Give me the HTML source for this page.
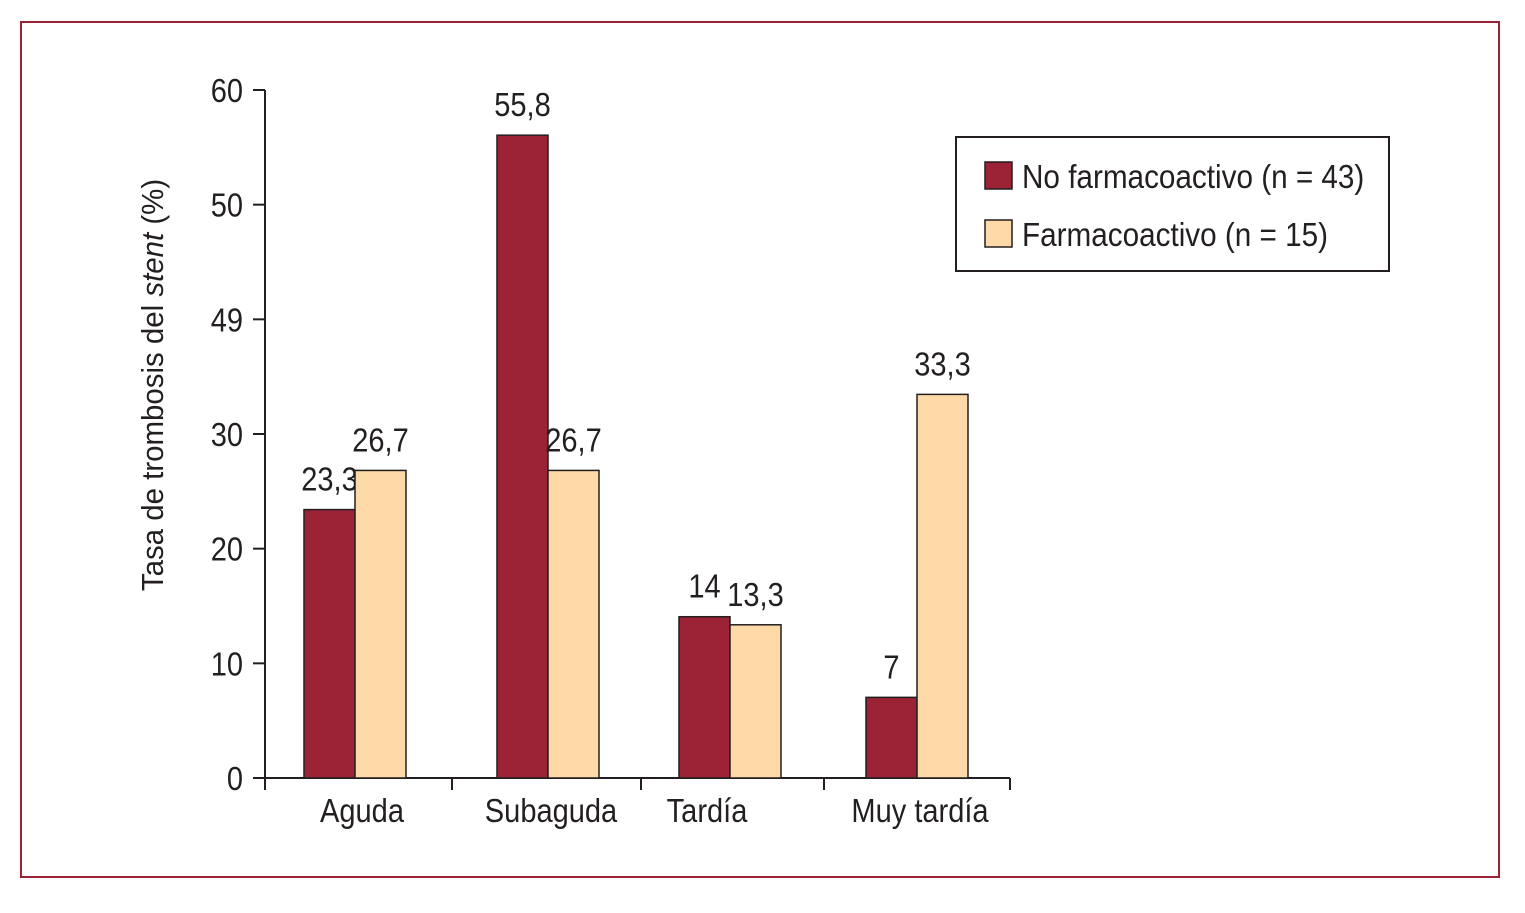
<!DOCTYPE html>
<html><head><meta charset="utf-8"><style>
html,body{margin:0;padding:0;background:#fff;}
svg text{font-family:"Liberation Sans",sans-serif;fill:#231f20;}
</style></head><body>
<svg id="chart" width="1525" height="908" xmlns="http://www.w3.org/2000/svg">
<rect x="21" y="22" width="1478" height="855" fill="none" stroke="#9b2335" stroke-width="2"/>
<g id="axes"></g><g id="bars"></g>
<text transform="translate(163,385) rotate(-90) scale(0.95,1)" text-anchor="middle" font-size="31">Tasa de trombosis del <tspan font-style="italic">stent</tspan> (%)</text>
<g>
<rect x="956" y="137" width="433" height="134" fill="#fff" stroke="#231f20" stroke-width="2"/>
<rect x="985" y="162" width="27" height="27" fill="#9b2335" stroke="#231f20" stroke-width="1.5"/>
<text transform="translate(1022,188) scale(0.9,1)" font-size="33">No farmacoactivo (n = 43)</text>
<rect x="985" y="220" width="27" height="27" fill="#fdd9a8" stroke="#231f20" stroke-width="1.5"/>
<text transform="translate(1022,246) scale(0.9,1)" font-size="33">Farmacoactivo (n = 15)</text>
</g>
</svg>
<script>
const categories = ["Aguda","Subaguda","Tardía","Muy tardía"];
const noFarma = [23.3, 55.8, 14, 7];
const farma = [26.7, 26.7, 13.3, 33.3];
const noFarmaLabels = ["23,3","55,8","14","7"];
const farmaLabels = ["26,7","26,7","13,3","33,3"];
const tickValues = [0,10,20,30,40,50,60];
const tickLabels = ["0","10","20","30","49","50","60"];

const NS="http://www.w3.org/2000/svg";
const y0=778, yTop=90, yMax=60;
const y = v => y0 - v/yMax*(y0-yTop);
const yb = v => y0 - v*11.52;
const groupSplit = [355, 548, 730, 917];
const labelX = [362, 551, 707, 920];
const xTicks = [265, 452, 641, 824, 1010];
const bw = 51;
function mk(tag, attrs, parent){const e=document.createElementNS(NS,tag);for(const k in attrs)e.setAttribute(k,attrs[k]);parent.appendChild(e);return e;}
function txt(x,yy,anchor,size,str,parent){const t=mk('text',{transform:`translate(${x},${yy}) scale(0.88,1)`,'text-anchor':anchor,'font-size':size},parent);t.textContent=str;return t;}
const axes=document.getElementById('axes'), bars=document.getElementById('bars');

const ya=mk('line',{x1:265,y1:yTop,x2:265,y2:y0,stroke:'#231f20','stroke-width':2},axes);


const xa=mk('line',{x1:265,y1:y0,x2:1010,y2:y0,stroke:'#231f20','stroke-width':2},axes);


tickValues.forEach((v,i)=>{
  const t=mk('line',{x1:253,y1:y(v),x2:265,y2:y(v),stroke:'#231f20','stroke-width':2},axes);
  
  
  const l=txt(243,y(v)+12,'end',33,tickLabels[i],axes);
  
  
});
xTicks.forEach(x=>{
  const t=mk('line',{x1:x,y1:y0,x2:x,y2:790,stroke:'#231f20','stroke-width':2},axes);
  
  
});
categories.forEach((c,i)=>{
  const l=txt(labelX[i],822,'middle',33,c,axes);
  
  
  const cx=groupSplit[i];
  [[noFarma,noFarmaLabels,'#9b2335',cx-bw,'no-farmacoactivo'],[farma,farmaLabels,'#fdd9a8',cx,'farmacoactivo']].forEach(([vals,labs,col,x,nm])=>{
    const r=mk('rect',{x:x,y:yb(vals[i]),width:bw,height:y0-yb(vals[i]),fill:col,stroke:'#231f20','stroke-width':1.5},bars);
    
    
    const t=txt(x+bw/2,yb(vals[i])-19,'middle',33,labs[i],bars);
    
    
  });
});
</script>
</body></html>
